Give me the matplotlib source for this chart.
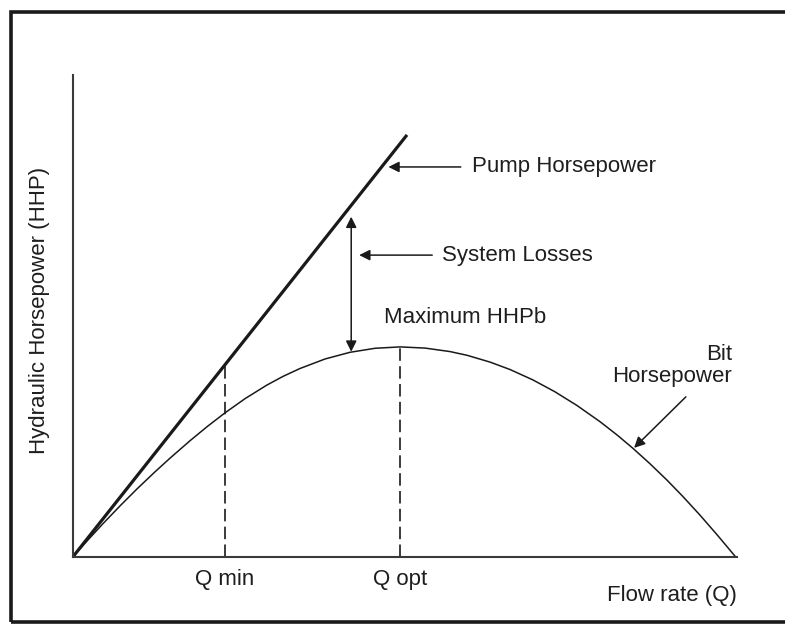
import matplotlib.pyplot as plt
from matplotlib.patches import Rectangle

plt.rcParams['font.family'] = ['Liberation Sans', 'DejaVu Sans']

# flow rate / horsepower in arbitrary units (axis 0..100)
pump_q = [0, 50.3]
pump_hhp = [0, 100]

bit_q = [0, 2.26, 4.52, 7.08, 9.64, 12.35, 14.61, 17.62, 20.18, 22.89,
         25.90, 29.17, 31.63, 34.19, 37.95, 41.72, 45.48, 49.25, 53.01,
         56.78, 59.34, 62.80, 65.81, 69.28, 72.59, 75.90, 79.37, 81.93,
         84.34, 86.90, 89.46, 91.87, 94.43, 97.14, 99.77]
bit_hhp = [0, 3.98, 7.84, 12.04, 16.07, 20.12, 23.36, 27.49, 30.81, 34.10,
           37.46, 40.66, 42.75, 44.62, 46.87, 48.46, 49.41, 49.74, 49.46,
           48.63, 47.75, 46.14, 44.38, 41.90, 39.09, 35.85, 32.01, 28.87,
           25.68, 22.03, 18.15, 14.24, 9.85, 4.94, 0]

q_min = 22.9
q_opt = 49.25
q_min_top = 45.5   # pump HHP at Q min
q_opt_top = 49.74  # max bit HHP

tick_names = ['Q min', 'Q opt']

ink = '#1a1a1a'
txt = '#1e1e1e'

fig = plt.figure(figsize=(7.85, 6.24), dpi=100)
ax = fig.add_axes([73 / 785, 1 - 556.7 / 624, 664 / 785, 481.7 / 624])

ax.plot(pump_q, pump_hhp, color=ink, lw=2.3, solid_capstyle='butt')
ax.plot(bit_q, bit_hhp, color=ink, lw=1.1, solid_joinstyle='round')

dash = dict(color=ink, lw=1.2, dashes=(7.5, 3.2))
ax.plot([q_min, q_min], [0, q_min_top], **dash)
ax.plot([q_opt, q_opt], [0, q_opt_top], **dash)

ax.set_xlim(0, 100)
ax.set_ylim(0, 114.2)
for s in ['top', 'right']:
    ax.spines[s].set_visible(False)
for s in ['left', 'bottom']:
    ax.spines[s].set_color('#3a3a3a')
    ax.spines[s].set_linewidth(1.5)
ax.set_xticks([])
ax.set_yticks([])

fs = 16
arrow = dict(arrowstyle='-|>', color=ink, lw=1.1, mutation_scale=16, shrinkA=0, shrinkB=0)

ax.annotate('', xy=(47.5, 92.4), xytext=(58.4, 92.4), arrowprops=arrow)
ax.text(60.1, 92.4, 'Pump Horsepower', fontsize=fs, color=txt, ha='left', va='center')

ax.annotate('', xy=(43.1, 71.5), xytext=(54.1, 71.5), arrowprops=arrow)
ax.text(55.6, 71.5, 'System Losses', fontsize=fs, color=txt, ha='left', va='center')

ax.annotate('', xy=(41.9, 80.6), xytext=(41.9, 48.6),
            arrowprops=dict(arrowstyle='<|-|>', color=ink, lw=1.1, mutation_scale=16,
                            shrinkA=0, shrinkB=0))
ax.text(46.8, 56.6, 'Maximum HHPb', fontsize=fs, color=txt, ha='left', va='center')

ax.annotate('', xy=(84.5, 25.8), xytext=(92.3, 37.9), arrowprops=arrow)
ax.text(99.3, 45.4, 'Bit\nHorsepower', fontsize=fs, color=txt, ha='right', va='center',
        multialignment='right', linespacing=1.05)

for q, name in zip([q_min, q_opt], tick_names):
    ax.text(q, -5.5, name, fontsize=fs, color=txt, ha='center', va='center', clip_on=False)
ax.text(100, -9.1, 'Flow rate (Q)', fontsize=fs, color=txt, ha='right', va='center', clip_on=False)

fig.text(40 / 785, 1 - 310 / 624, 'Hydraulic Horsepower (HHP)', fontsize=fs, color=txt,
         rotation=90, ha='center', va='center')

# outer frame, open past the right edge
fig.patches.append(Rectangle((11 / 785, 1 - 621.5 / 624), 1.0, 610 / 624,
                             transform=fig.transFigure, fill=False,
                             edgecolor='#1a1a1a', lw=2.6))

fig.savefig('out.png', dpi=100)
